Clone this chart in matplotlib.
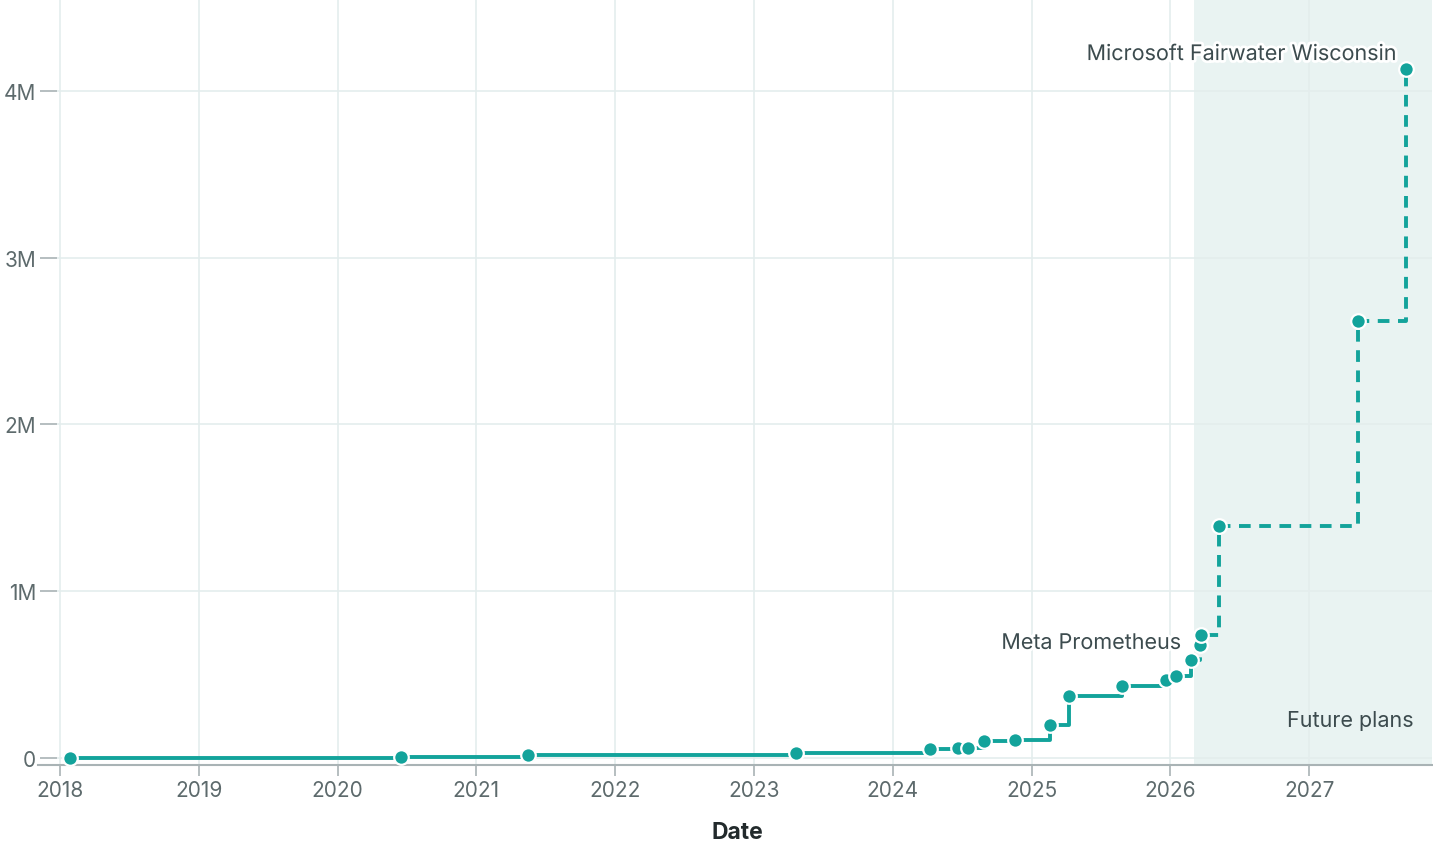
import numpy as np
import matplotlib.pyplot as plt
import matplotlib.patheffects as pe

plt.rcParams['font.family'] = ['Inter', 'DejaVu Sans']

# data: date in decimal years, value in millions
dates = [2018.07, 2020.46, 2021.37, 2023.30, 2024.27, 2024.47, 2024.54, 2024.66,
         2024.88, 2025.13, 2025.27, 2025.65, 2025.97, 2026.04, 2026.15, 2026.21,
         2026.22, 2026.35, 2027.35, 2027.70]
values = [0.0, 0.005, 0.02, 0.03, 0.054, 0.06, 0.06, 0.10,
          0.11, 0.20, 0.37, 0.43, 0.47, 0.49, 0.59, 0.68,
          0.74, 1.39, 2.62, 4.13]
future_start = 2026.17
years = list(range(2018, 2028))
yticks = [0, 1, 2, 3, 4]
ylabels = ['0', '1M', '2M', '3M', '4M']

teal = '#13a39b'
txt = '#3c4b4e'
tick_c = '#5d6a6c'
grid_c = '#e4eded'

fig = plt.figure(figsize=(14.33, 8.45), dpi=100)
ax = fig.add_axes([57/1433, 79/845, 1375/1433, 766/845])

ax.set_xlim(2017.978, 2027.885)
ax.set_ylim(-0.042, 4.55)

ax.axvspan(future_start, 2027.885, color='#e9f3f2', zorder=0, lw=0)

n_solid = sum(1 for d in dates if d <= future_start)
ax.step(dates[:n_solid], values[:n_solid], where='post', color=teal, lw=2.8, zorder=3)
ax.step(dates[n_solid-1:], values[n_solid-1:], where='post', color=teal, lw=2.8,
        ls=(0, (3, 2.2)), zorder=3)
ax.plot(dates, values, 'o', ms=10.5, mfc=teal, mec='white', mew=1.6, zorder=4, ls='none')

stroke = [pe.withStroke(linewidth=4, foreground='white')]
ax.text(2026.08, 0.69, 'Meta Prometheus', ha='right', va='center', fontsize=15.5,
        color=txt, path_effects=stroke, zorder=5)
ax.text(2027.63, 4.22, 'Microsoft Fairwater Wisconsin', ha='right', va='center',
        fontsize=15.5, color=txt, path_effects=stroke, zorder=5)
ax.text(2027.75, 0.23, 'Future plans', ha='right', va='center', fontsize=15.5,
        color=txt, zorder=5)

ax.set_xticks(years)
ax.set_xticklabels([str(y) for y in years])
ax.set_yticks(yticks)
ax.set_yticklabels(ylabels)
ax.grid(True, color=grid_c, lw=1.2, zorder=1)
ax.set_axisbelow(True)

for s in ['top', 'right', 'left', 'bottom']:
    ax.spines[s].set_visible(False)
ax.plot([-19/1375, 1], [0, 0], transform=ax.transAxes, color='#a9b3b5', lw=1.5,
        clip_on=False, zorder=2)

ax.tick_params(axis='x', colors='#a9b3b5', labelcolor=tick_c, labelsize=15,
               length=8, width=1.2, pad=3)
ax.tick_params(axis='y', colors='#a9b3b5', labelcolor=tick_c, labelsize=15,
               length=12, width=1.2, pad=3)

ax.set_xlabel('Date', fontsize=16.5, fontweight='bold', color='#222a2c')
ax.xaxis.set_label_coords(0.495, -0.087)
ax.xaxis.label.set_va('center')

fig.savefig('out.png', dpi=100, facecolor='white')
